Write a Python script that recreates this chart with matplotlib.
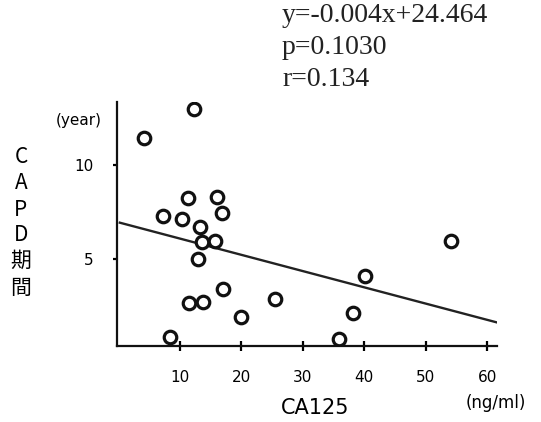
import matplotlib.pyplot as plt
import numpy as np

plt.rcParams['font.family'] = ['DejaVu Sans', 'Noto Sans CJK JP']

# CA125 (ng/ml) vs CAPD period (year)
ca125 = [4.2, 12.2, 11.3, 16.1, 7.3, 10.3, 16.9, 13.3, 13.6, 15.7, 12.9,
         54.1, 40.1, 17.0, 11.5, 13.7, 25.5, 20.0, 38.1, 8.3, 35.8]
capd_years = [11.45, 12.98, 8.26, 8.31, 7.30, 7.11, 7.43, 6.69, 5.92, 5.97, 5.00,
              5.97, 4.10, 3.39, 2.64, 2.69, 2.85, 1.91, 2.11, 0.87, 0.73]

# regression line as drawn
fit_x = [0.2, 62.1]
fit_y = [6.93, 1.58]

stats_lines = ['y=-0.004x+24.464', 'p=0.1030', 'r=0.134']
ylabel_chars = ['C', 'A', 'P', 'D', '期', '間']

fig = plt.figure(figsize=(5.41, 4.22), dpi=100)
ax = fig.add_axes([117 / 541, 76 / 422, (497 - 117) / 541, (346 - 102) / 422])

ax.plot(ca125, capd_years, 'o', markersize=9, markerfacecolor='white',
        markeredgecolor='#111111', markeredgewidth=2.3, zorder=3)
ax.plot(fit_x, fit_y, color='#222222', linewidth=1.7)

ax.set_xlim(-0.26, 61.6)
ax.set_ylim(0.37, 13.35)
ax.set_xticks([10, 20, 30, 40, 50, 60])
ax.set_yticks([5, 10])

for s in ['top', 'right']:
    ax.spines[s].set_visible(False)
for s in ['left', 'bottom']:
    ax.spines[s].set_linewidth(1.6)
    ax.spines[s].set_color('#111111')

ax.tick_params(axis='x', direction='inout', length=7, width=1.6, pad=14, labelsize=11)
ax.tick_params(axis='y', direction='out', length=3, width=1.6, pad=14, labelsize=11)

# stats text (serif)
ys = [16, 47, 80]
for t, y in zip(stats_lines, ys):
    fig.text(282 / 541, 1 - y / 422, t, family='Liberation Serif', fontsize=20,
             va='center', ha='left', color='#222222')

# units
fig.text(79 / 541, 1 - 120 / 422, '(year)', fontsize=11, ha='center', va='center')
fig.text(496 / 541, 1 - 403 / 422, '(ng/ml)', fontsize=12, ha='center', va='center')

# x label
fig.text(315 / 541, 1 - 408 / 422, 'CA125', fontsize=15, ha='center', va='center')

# vertical y label
char_y = [157, 183, 210, 235, 261, 288]
for ch, y in zip(ylabel_chars, char_y):
    fig.text(21 / 541, 1 - y / 422, ch, fontsize=15, ha='center', va='center',
             family=['Noto Sans CJK JP', 'DejaVu Sans'])

fig.savefig('out.png', dpi=100)
